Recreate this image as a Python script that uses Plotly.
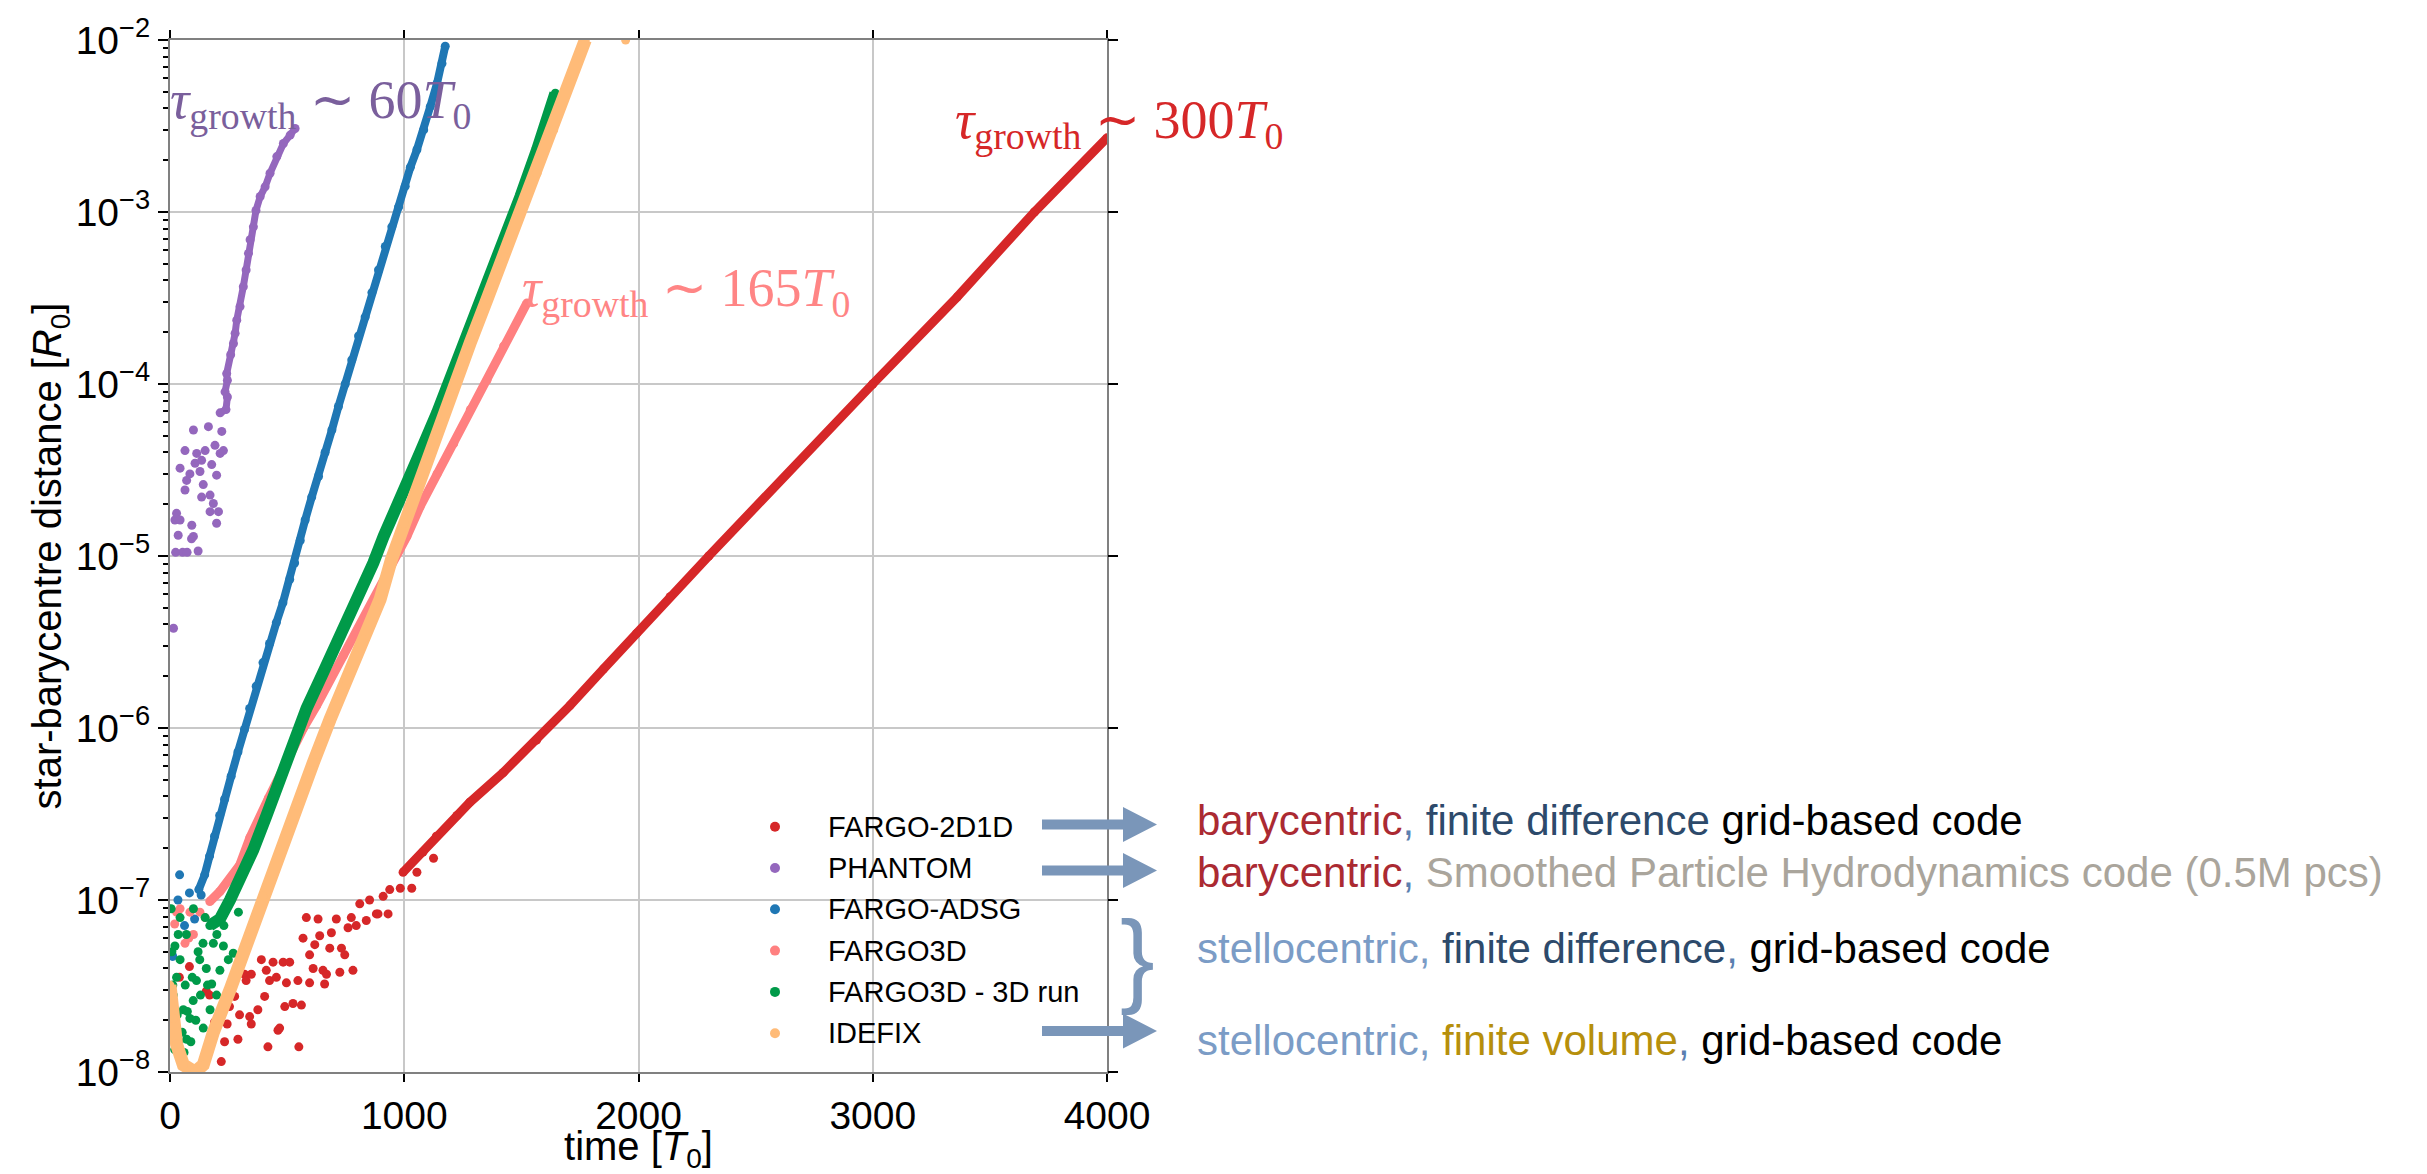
import plotly.graph_objects as go

# ---------------- data ----------------
# FARGO-2D1D
red_scatter_t = [40, 83, 155, 169, 190, 219, 233, 244, 254, 276, 290, 297, 318, 325, 340, 347, 347, 375,
                 390, 404, 411, 418, 425, 440, 454, 461, 468, 483, 490, 497, 511, 525, 546, 550, 561,
                 568, 582, 596, 596, 611, 618, 632, 639, 653, 660, 668, 682, 689, 710, 725, 732, 746,
                 760, 774, 781, 795, 810, 838, 852, 881, 888, 910, 931, 938, 983, 1032, 1054, 1125]
red_scatter_d = [3.55e-8, 4.1e-8, 2.95e-8, 2.8e-8, 1.95e-8, 1.15e-8, 1.5e-8, 1.9e-8, 2.4e-8, 2.75e-8,
                 1.55e-8, 2.15e-8, 3.7e-8, 3.4e-8, 2.1e-8, 3.7e-8, 1.9e-8, 2.3e-8, 4.5e-8, 2.75e-8,
                 3.9e-8, 1.4e-8, 3.4e-8, 4.35e-8, 3.55e-8, 1.75e-8, 1.8e-8, 4.35e-8, 2.4e-8, 3.3e-8,
                 4.35e-8, 2.5e-8, 3.4e-8, 1.4e-8, 2.45e-8, 6.0e-8, 7.9e-8, 4.8e-8, 3.3e-8, 4.0e-8,
                 5.5e-8, 7.75e-8, 6.2e-8, 3.9e-8, 3.25e-8, 3.7e-8, 5.25e-8, 6.45e-8, 7.75e-8, 3.8e-8,
                 5.25e-8, 4.8e-8, 6.9e-8, 7.9e-8, 3.9e-8, 7.1e-8, 9.5e-8, 7.6e-8, 1.0e-7, 8.3e-8,
                 8.3e-8, 1.05e-7, 8.3e-8, 1.15e-7, 1.17e-7, 1.17e-7, 1.45e-7, 1.75e-7]
red_line_t = [995, 1080, 1137, 1225, 1280, 1422, 1565, 1707, 1850, 1992, 2135, 2300, 3000, 3360, 3690, 4000]
red_line_d = [1.45e-7, 1.9e-7, 2.35e-7, 3.1e-7, 3.7e-7, 5.5e-7, 8.5e-7, 1.35e-6, 2.2e-6,
              3.55e-6, 5.8e-6, 1.0e-5, 1.0e-4, 3.2e-4, 1.0e-3, 2.7e-3]

# PHANTOM
purple_scatter_t = [15, 21, 24, 28, 35, 43, 43, 54, 64, 64, 71, 73, 85, 92, 93, 100, 100, 107, 114, 120,
                    128, 135, 135, 142, 150, 164, 171, 171, 178, 185, 192, 199, 199, 207, 214, 221, 228]
purple_scatter_d = [3.8e-6, 1.62e-5, 1.05e-5, 1.77e-5, 1.32e-5, 3.24e-5, 1.62e-5, 1.05e-5, 4.1e-5,
                    2.42e-5, 2.75e-5, 1.05e-5, 3.0e-5, 1.26e-5, 1.51e-5, 5.4e-5, 1.3e-5, 3.46e-5,
                    3.95e-5, 1.07e-5, 3.1e-5, 3.6e-5, 2.2e-5, 2.6e-5, 4.1e-5, 5.65e-5, 2.26e-5,
                    1.81e-5, 3.4e-5, 2.02e-5, 4.4e-5, 2.95e-5, 1.55e-5, 1.81e-5, 3.95e-5, 5.3e-5, 4.1e-5]
purple_curve_t = [214, 239, 245, 235, 245, 242, 259, 271, 278, 285, 299, 313, 325, 335, 342, 356, 367,
                  385, 406, 427, 456, 484, 513, 534]
purple_curve_d = [6.8e-5, 7.1e-5, 8.4e-5, 9.0e-5, 1.05e-4, 1.15e-4, 1.48e-4, 1.72e-4, 1.97e-4, 2.35e-4,
                  2.82e-4, 3.68e-4, 4.6e-4, 5.75e-4, 6.9e-4, 8.2e-4, 1.02e-3, 1.23e-3, 1.40e-3,
                  1.68e-3, 2.1e-3, 2.5e-3, 2.8e-3, 3.06e-3]

# FARGO-ADSG
blue_scatter_t = [12, 34, 41, 62, 83, 105, 133]
blue_scatter_d = [4.7e-8, 1.0e-7, 1.4e-7, 7.1e-8, 1.1e-7, 7.75e-8, 1.07e-7]
blue_line_t = [123, 148, 169, 190, 212, 233, 261, 290, 318, 340, 368, 397, 425, 454, 482, 511, 532, 556,
               577, 605, 634, 662, 691, 719, 748, 776, 805, 833, 862, 890, 919, 947, 976, 1004, 1026,
               1054, 1083, 1111, 1140, 1161, 1175]
blue_line_d = [1.15e-7, 1.4e-7, 1.8e-7, 2.35e-7, 3.1e-7, 3.85e-7, 5.25e-7, 7.25e-7, 9.8e-7, 1.3e-6,
               1.75e-6, 2.4e-6, 3.1e-6, 4.1e-6, 5.35e-6, 7.3e-6, 9.1e-6, 1.23e-5, 1.62e-5, 2.2e-5,
               2.9e-5, 4.0e-5, 5.4e-5, 7.4e-5, 1.0e-4, 1.38e-4, 1.9e-4, 2.45e-4, 3.4e-4, 4.6e-4,
               6.3e-4, 8.2e-4, 1.07e-3, 1.41e-3, 1.82e-3, 2.3e-3, 3.0e-3, 4.1e-3, 5.6e-3, 7.3e-3, 9.2e-3]

# FARGO3D
pink_scatter_t = [20, 28, 43, 64, 80, 85, 100, 128, 150]
pink_scatter_d = [7.25e-8, 8.5e-8, 8.9e-8, 5.6e-8, 6.0e-8, 8.5e-8, 6.3e-8, 8.5e-8, 7.9e-8]
pink_line_t = [170, 213, 298, 341, 420, 498, 570, 626, 740, 868, 1011, 1068, 1140, 1211, 1282, 1353, 1424, 1524]
pink_line_d = [9.8e-8, 1.12e-7, 1.6e-7, 2.3e-7, 3.9e-7, 6.5e-7, 1.0e-6, 1.35e-6, 2.65e-6, 5.4e-6,
               1.3e-5, 1.94e-5, 3.0e-5, 4.5e-5, 7.1e-5, 1.05e-4, 1.66e-4, 2.96e-4]

# FARGO3D - 3D run
green_scatter_t = [5, 6, 7, 8, 12, 14, 20, 21, 28, 31, 35, 38, 43, 43, 52, 57, 60, 65, 70, 71, 74, 85,
                   89, 95, 99, 100, 110, 113, 120, 127, 130, 141, 142, 150, 155, 160, 171, 178, 185,
                   199, 200, 213, 228, 230, 249, 270, 292]
green_scatter_d = [8.9e-8, 2.5e-8, 1.8e-8, 5.0e-8, 3.2e-8, 2.8e-8, 1.35e-8, 5.4e-8, 3.55e-8, 2.15e-8,
                   6.3e-8, 1.5e-8, 4.5e-8, 7.9e-8, 1.7e-8, 2.3e-8, 1.3e-8, 3.2e-8, 6.3e-8, 1.55e-8,
                   2.25e-8, 2.05e-8, 1.5e-8, 3.55e-8, 2.6e-8, 8.9e-8, 2.0e-8, 3.4e-8, 5.0e-8, 4.5e-8,
                   2.8e-8, 5.6e-8, 1.8e-8, 7.9e-8, 4.0e-8, 3.2e-8, 2.3e-8, 3.25e-8, 5.6e-8, 2.8e-8,
                   6.3e-8, 3.9e-8, 5.4e-8, 7.1e-8, 4.5e-8, 4.9e-8, 8.5e-8]
green_line_t = [170, 213, 256, 298, 355, 412, 469, 526, 583, 654, 726, 797, 868, 912, 997, 1068, 1140,
                1211, 1282, 1353, 1424, 1496, 1567, 1645]
green_line_d = [7.1e-8, 7.75e-8, 1.0e-7, 1.32e-7, 1.95e-7, 3.1e-7, 5.0e-7, 7.75e-7, 1.3e-6, 2.1e-6,
                3.4e-6, 5.6e-6, 9.1e-6, 1.3e-5, 2.3e-5, 4.0e-5, 6.8e-5, 1.2e-4, 2.05e-4, 3.7e-4,
                6.6e-4, 1.23e-3, 2.3e-3, 4.9e-3]

# IDEFIX
orange_line_t = [0, 7, 14, 28, 57, 107, 142, 185, 256, 327, 398, 469, 541, 612, 683, 755, 826, 897, 945,
                 1000, 1068, 1140, 1211, 1282, 1353, 1424, 1496, 1567, 1638, 1709, 1773]
orange_line_d = [3.2e-8, 2.8e-8, 2.05e-8, 1.45e-8, 1.1e-8, 1.0e-8, 1.1e-8, 1.7e-8, 3.0e-8, 5.6e-8,
                 1.05e-7, 1.95e-7, 3.55e-7, 6.3e-7, 1.12e-6, 1.9e-6, 3.3e-6, 5.6e-6, 9.5e-6, 1.55e-5,
                 2.75e-5, 5.1e-5, 9.5e-5, 1.74e-4, 3.1e-4, 5.5e-4, 9.8e-4, 1.68e-3, 3.0e-3, 5.6e-3, 1.0e-2]
orange_scatter_t = [1945]
orange_scatter_d = [1.0e-2]

# axis ticks
x_ticks = [0, 1000, 2000, 3000, 4000]
y_tick_vals = [1e-8, 1e-7, 1e-6, 1e-5, 1e-4, 1e-3, 1e-2]
y_tick_text = ["10<sup>−8</sup>", "10<sup>−7</sup>", "10<sup>−6</sup>", "10<sup>−5</sup>",
               "10<sup>−4</sup>", "10<sup>−3</sup>", "10<sup>−2</sup>"]

legend_names = ["FARGO-2D1D", "PHANTOM", "FARGO-ADSG", "FARGO3D", "FARGO3D - 3D run", "IDEFIX"]

# ---------------- layout geometry ----------------
W, H = 2427, 1174
L, R, T, B = 170, 1320, 40, 102
PW = W - L - R
PH = H - T - B


def px(x):
    return (x - L) / PW


def py(y):
    return (H - B - y) / PH


SANS = "Liberation Sans, Arial, sans-serif"
SERIF = "Liberation Serif, Times New Roman, serif"

C_RED = "#d62728"
C_PURPLE = "#9467bd"
C_BLUE = "#1f77b4"
C_PINK = "#ff8080"
C_GREEN = "#009a49"
C_ORANGE = "#ffbb78"
C_ARROW = "#7a96b9"
legend_colors = [C_RED, C_PURPLE, C_BLUE, C_PINK, C_GREEN, C_ORANGE]

fig = go.Figure()

MS = 9


def add_series(name, color, sc_t, sc_d, ln_t, ln_d, lw):
    if ln_t:
        fig.add_trace(go.Scatter(x=ln_t, y=ln_d, mode="lines", line=dict(color=color, width=lw),
                                 showlegend=False, hoverinfo="skip", name=name))
    fig.add_trace(go.Scatter(x=list(sc_t) + list(ln_t), y=list(sc_d) + list(ln_d), mode="markers",
                             marker=dict(color=color, size=MS, line=dict(width=0)),
                             name=name, showlegend=False))


add_series("FARGO-2D1D", C_RED, red_scatter_t, red_scatter_d, red_line_t, red_line_d, 9)
add_series("PHANTOM", C_PURPLE, purple_scatter_t, purple_scatter_d, purple_curve_t, purple_curve_d, 7)
add_series("FARGO-ADSG", C_BLUE, blue_scatter_t, blue_scatter_d, blue_line_t, blue_line_d, 8)
add_series("FARGO3D", C_PINK, pink_scatter_t, pink_scatter_d, pink_line_t, pink_line_d, 9)
add_series("FARGO3D - 3D run", C_GREEN, green_scatter_t, green_scatter_d, green_line_t, green_line_d, 12)
add_series("IDEFIX", C_ORANGE, orange_scatter_t, orange_scatter_d, orange_line_t, orange_line_d, 13)

# empty trace to carry the right-hand tick axis
fig.add_trace(go.Scatter(x=[], y=[], xaxis="x", yaxis="y2", showlegend=False, hoverinfo="skip"))

# ---------------- annotations ----------------
annotations = []


def tau_text(value):
    return f"<i>τ</i><sub>growth</sub> ∼ {value}<i>T</i><sub>0</sub>"


annotations.append(dict(text=tau_text("60"), x=px(168), y=py(103), xref="paper", yref="paper",
                        xanchor="left", yanchor="middle", align="left", showarrow=False,
                        font=dict(family=SERIF, size=54, color="#7a5f9c")))
annotations.append(dict(text=tau_text("165"), x=px(520), y=py(291), xref="paper", yref="paper",
                        xanchor="left", yanchor="middle", align="left", showarrow=False,
                        font=dict(family=SERIF, size=54, color="#ff8585")))
annotations.append(dict(text=tau_text("300"), x=px(953), y=py(123), xref="paper", yref="paper",
                        xanchor="left", yanchor="middle", align="left", showarrow=False,
                        font=dict(family=SERIF, size=54, color=C_RED)))

C_BARY = "#ab2a32"
C_STELLO = "#7b9cc6"
C_COMMA = "#5b7fb0"
C_NAVY = "#2d4a6b"
C_GRAY = "#aaa59c"
C_GOLD = "#b68f0c"


def span(t, c):
    return f"<span style='color:{c}'>{t}</span>"


right_lines = [
    (835, span("barycentric", C_BARY) + span(",", C_COMMA) + span(" finite difference", C_NAVY)
     + span(" grid-based code", "#000000")),
    (887, span("barycentric", C_BARY) + span(",", C_COMMA)
     + span(" Smoothed Particle Hydrodynamics code (0.5M pcs)", C_GRAY)),
    (963, span("stellocentric,", C_STELLO) + span(" finite difference", C_NAVY) + span(",", C_COMMA)
     + span(" grid-based code", "#000000")),
    (1055, span("stellocentric,", C_STELLO) + span(" finite volume", C_GOLD) + span(",", C_COMMA)
     + span(" grid-based code", "#000000")),
]
for base, txt in right_lines:
    annotations.append(dict(text=txt, x=px(1195), y=py(base - 14.5), xref="paper", yref="paper",
                            xanchor="left", yanchor="middle", align="left", showarrow=False,
                            font=dict(family=SANS, size=42, color="#000000")))

# brace
annotations.append(dict(text="}", x=px(1137), y=py(957), xref="paper", yref="paper",
                        xanchor="center", yanchor="middle", showarrow=False,
                        font=dict(family=SANS, size=104, color=C_ARROW)))

# ---------------- shapes ----------------
shapes = []
# semi-transparent legend box (between grid and traces)
shapes.append(dict(type="rect", xref="paper", yref="paper", x0=px(733), x1=px(1107), y0=py(1060),
                   y1=py(800), fillcolor="rgba(255,255,255,0.8)", line=dict(width=0), layer="between"))

# legend entries (dot + label)
LEG_Y0, LEG_DY = 826.7, 41.3
for i, (nm, col) in enumerate(zip(legend_names, legend_colors)):
    yc = LEG_Y0 + i * LEG_DY
    shapes.append(dict(type="circle", xref="paper", yref="paper", x0=px(770), x1=px(780),
                       y0=py(yc + 5), y1=py(yc - 5), fillcolor=col, line=dict(width=0), layer="above"))
    annotations.append(dict(text=nm, x=px(826), y=py(yc), xref="paper", yref="paper",
                            xanchor="left", yanchor="middle", align="left", showarrow=False,
                            font=dict(family=SANS, size=29, color="#000000")))


def arrow_path(yc):
    x0, x1, x2 = 1042, 1123, 1157
    hs, hh = 5, 17.5
    pts = [(x0, yc - hs), (x1, yc - hs), (x1, yc - hh), (x2, yc), (x1, yc + hh), (x1, yc + hs), (x0, yc + hs)]
    return "M " + " L ".join(f"{px(a):.5f},{py(b):.5f}" for a, b in pts) + " Z"


for yc in (824.5, 870.5, 1031):
    shapes.append(dict(type="path", path=arrow_path(yc), xref="paper", yref="paper",
                       fillcolor=C_ARROW, line=dict(width=0), layer="above"))

fig.update_layout(
    width=W, height=H,
    margin=dict(l=L, r=R, t=T, b=B, autoexpand=False),
    paper_bgcolor="white", plot_bgcolor="white",
    font=dict(family=SANS, size=39, color="black"),
    showlegend=False,
    xaxis=dict(range=[0, 4000], tickvals=x_ticks, ticks="outside", ticklen=8, tickwidth=2,
               tickcolor="black", showline=True, linecolor="#808080", linewidth=2, mirror="ticks",
               showgrid=True, gridcolor="#c8c8c8", gridwidth=1.5, zeroline=False,
               tickfont=dict(family=SANS, size=39, color="black"),
               title=dict(text="time [<i>T</i><sub>0</sub>]", font=dict(family=SANS, size=40, color="black"),
                          standoff=14),
               automargin=False),
    yaxis=dict(type="log", range=[-8, -2], tickvals=y_tick_vals, ticktext=y_tick_text, ticks="outside",
               ticklen=10, tickwidth=2, tickcolor="black", showline=True, linecolor="#808080",
               linewidth=2, mirror=True, showgrid=True, gridcolor="#c8c8c8", gridwidth=1.5,
               zeroline=False, tickfont=dict(family=SANS, size=39, color="black"),
               minor=dict(ticks="outside", ticklen=5, tickwidth=1.5, tickcolor="black", dtick="D1",
                          showgrid=False),
               title=dict(text="star-barycentre distance [<i>R</i><sub>0</sub>]",
                          font=dict(family=SANS, size=40, color="black"), standoff=1),
               automargin=False),
    yaxis2=dict(type="log", range=[-8, -2], overlaying="y", side="right", tickvals=y_tick_vals,
                showticklabels=False, ticks="outside", ticklen=10, tickwidth=2, tickcolor="black",
                showgrid=False, showline=False, zeroline=False, automargin=False),
    annotations=annotations,
    shapes=shapes,
)

fig.write_html("out.html")
